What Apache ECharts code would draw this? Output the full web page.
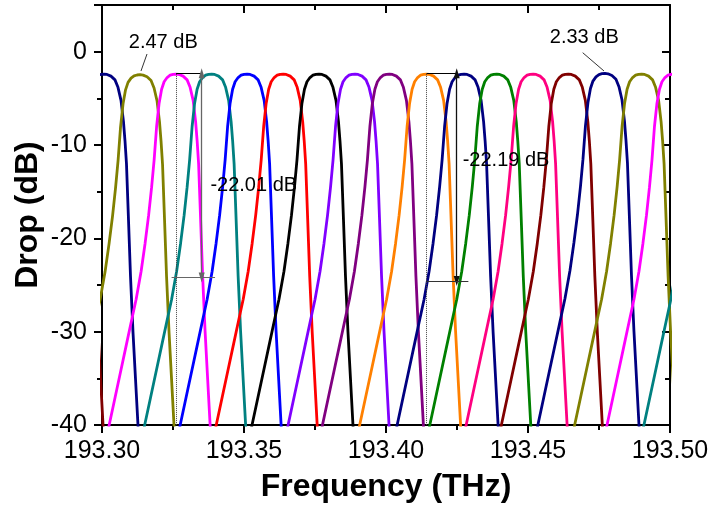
<!DOCTYPE html>
<html><head><meta charset="utf-8">
<script src="https://cdn.jsdelivr.net/npm/echarts@6/dist/echarts.min.js"></script>
<style>html,body{margin:0;padding:0;background:#fff}#c{width:714px;height:511px}</style>
</head><body><div id="c"></div>
<script>
// ---- data ----
const xTickLabels = ['193.30', '193.35', '193.40', '193.45', '193.50'];
const yTickLabels = ['-40', '-30', '-20', '-10', '0'];
const xRange = [193.30, 193.50];
const yRange = [-40, 5];

// channel centre frequencies (THz), left to right
const channelCenters = [193.2884, 193.3007, 193.3134, 193.3261, 193.3386, 193.3511, 193.3638,
  193.3764, 193.3891, 193.4012, 193.4143, 193.4275, 193.4390, 193.4518, 193.4642, 193.4771,
  193.4900, 193.5014, 193.5144];
const channelColors = ['#800000', '#000080', '#808000', '#FF00FF', '#008080', '#0000FF', '#FF0000',
  '#000000', '#8000FF', '#800080', '#FF8000', '#000080', '#008000', '#FF0080', '#800000', '#000080',
  '#808000', '#FF00FF', '#008080'];
// insertion loss at the peak (dB)
const peakLoss = [2.4, 2.4, 2.47, 2.4, 2.4, 2.4, 2.4, 2.4, 2.4, 2.4, 2.4, 2.4, 2.4, 2.4, 2.4, 2.33, 2.4, 2.4, 2.4];

// measured passband shape: frequency offset from centre (THz) and drop (dB)
const shapeOffset = [-0.02535, -0.02359, -0.02148, -0.01937, -0.01761, -0.01585, -0.01408, -0.01232,
  -0.01092, -0.00968, -0.00863, -0.00775, -0.00687, -0.00599, -0.00511, -0.00423, -0.00317, -0.00211,
  -0.00106, 0, 0.00106, 0.00246, 0.00387, 0.00493, 0.00599, 0.00687, 0.00739, 0.00792, 0.00863,
  0.00933, 0.01021, 0.01109, 0.01197, 0.0125];
const shapeDrop = [-43, -40, -37, -34, -31.5, -29, -26.5, -23.5, -20.5, -17.5, -14.5, -11.6, -8,
  -5.5, -4, -3.2, -2.75, -2.5, -2.41, -2.38, -2.42, -2.6, -3.0, -3.8, -5.2, -7.5, -9.5, -12, -18,
  -24, -30, -35, -40, -43];
const shapePeak = -2.38;

// annotation texts
const labelTexts = ['2.47 dB', '2.33 dB', '-22.01 dB', '-22.19 dB'];
const labelX = [193.32158, 193.46982, 193.33817, 193.42701];
const labelY = [0.99, 1.52, -14.3, -11.61];

// annotation segments: [x1, y1, x2, y2]
const guideDotted = [[193.3261, -2.38, 193.3261, -40], [193.4143, -2.38, 193.4143, -40]];
const capTop = [[193.3261, -2.3, 193.3352, -2.3], [193.4143, -2.3, 193.4250, -2.3]];
const arrowV = [[193.3351, -2.3, 193.3351, -24.2], [193.4249, -2.3, 193.4249, -24.57]];
const capBottom = [[193.3245, -24.2, 193.3398, -24.2], [193.4143, -24.57, 193.4290, -24.57]];
const leaders = [[193.31585, -0.25, 193.31373, -2.07], [193.46926, -0.11, 193.47676, -2.07]];

// ---- chart ----
const FONT = 'Arial, "Liberation Sans", sans-serif';
const chart = echarts.init(document.getElementById('c'), null, {renderer: 'canvas'});

const channelSeries = channelCenters.map((c, i) => ({
  type: 'line',
  data: shapeOffset.map((d, k) => [c + d, shapeDrop[k] - shapePeak - peakLoss[i]]),
  showSymbol: false,
  symbol: 'none',
  clip: true,
  lineStyle: {color: channelColors[i], width: 2.8},
  itemStyle: {color: channelColors[i]},
  silent: true,
  z: 2
}));

function seg(s, style, sym) {
  return [
    {coord: [s[0], s[1]], symbol: sym ? sym[0] : 'none', lineStyle: style},
    {coord: [s[2], s[3]], symbol: sym ? sym[1] : 'none', lineStyle: style}
  ];
}
const mlData = [];
guideDotted.forEach(s => mlData.push(seg(s, {color: '#444', width: 1, type: 'dotted'})));
capTop.forEach(s => mlData.push(seg(s, {color: '#000', width: 1, type: 'solid'})));
arrowV.forEach((s, i) => mlData.push(seg(s, {color: i === 0 ? '#666' : '#111', width: 1.3, type: 'solid'}, ['triangle', 'triangle'])));
capBottom.forEach((s, i) => mlData.push(seg(s, {color: i === 0 ? '#666' : '#333', width: 1.2, type: 'solid'})));
leaders.forEach(s => mlData.push(seg(s, {color: '#000', width: 0.8, type: 'solid'})));

const annotSeries = {
  type: 'line', data: [], silent: true, z: 5,
  markLine: {
    silent: true, animation: false,
    symbol: ['none', 'none'], symbolSize: [6, 10],
    label: {show: false},
    emphasis: {disabled: true},
    itemStyle: {color: '#000'},
    data: mlData
  }
};

const textSeries = {
  type: 'scatter', symbolSize: 0, silent: true, z: 10,
  itemStyle: {opacity: 1},
  data: labelTexts.map((t, i) => ({
    value: [labelX[i], labelY[i]], name: t,
    label: {position: i < 2 ? 'inside' : 'right', distance: 0}
  })),
  label: {show: true, formatter: p => p.name, color: '#000', opacity: 1, textBorderWidth: 0,
    fontSize: 20, fontFamily: FONT}
};

const axisLine = {show: true, onZero: false, lineStyle: {color: '#000', width: 2}};

chart.setOption({
  animation: false,
  backgroundColor: '#fff',
  grid: {left: 102, right: 44, top: 5, bottom: 86, containLabel: false},
  xAxis: [{
    type: 'value', position: 'bottom', min: xRange[0], max: xRange[1], interval: 0.05,
    axisLine: axisLine,
    axisTick: {show: true, inside: false, length: 8, lineStyle: {color: '#000', width: 2}},
    minorTick: {show: true, splitNumber: 2, length: 5, lineStyle: {color: '#000', width: 2}},
    splitLine: {show: false},
    axisLabel: {show: true, margin: 14, fontSize: 25, color: '#000', fontFamily: FONT,
      formatter: v => { const i = Math.round((v - xRange[0]) / 0.05); return xTickLabels[i] || ''; }},
    name: 'Frequency (THz)', nameLocation: 'middle', nameGap: 46, nameMoveOverlap: false,
    nameTextStyle: {fontSize: 32, fontWeight: 'bold', color: '#000', fontFamily: FONT}
  }, {
    type: 'value', position: 'top', min: xRange[0], max: xRange[1], interval: 0.05,
    axisLine: axisLine,
    axisTick: {show: true, inside: true, length: 8, lineStyle: {color: '#000', width: 2}},
    minorTick: {show: true, splitNumber: 2, length: 5, lineStyle: {color: '#000', width: 2}},
    splitLine: {show: false}, axisLabel: {show: false}
  }],
  yAxis: [{
    type: 'value', position: 'left', min: yRange[0], max: yRange[1], interval: 10,
    axisLine: axisLine,
    axisTick: {show: true, inside: false, length: 8, lineStyle: {color: '#000', width: 2}},
    minorTick: {show: true, splitNumber: 2, length: 5, lineStyle: {color: '#000', width: 2}},
    splitLine: {show: false},
    axisLabel: {show: true, margin: 15, fontSize: 25, color: '#000', fontFamily: FONT, showMaxLabel: false,
      formatter: v => { const i = Math.round((v - yRange[0]) / 10); return (v % 10 === 0 && yTickLabels[i]) ? yTickLabels[i] : ''; }},
    name: 'Drop (dB)', nameLocation: 'middle', nameGap: 58, nameMoveOverlap: false,
    nameTextStyle: {fontSize: 32, fontWeight: 'bold', color: '#000', fontFamily: FONT}
  }, {
    type: 'value', position: 'right', min: yRange[0], max: yRange[1], interval: 10,
    axisLine: axisLine,
    axisTick: {show: true, inside: true, length: 8, lineStyle: {color: '#000', width: 2}},
    minorTick: {show: true, splitNumber: 2, length: 5, lineStyle: {color: '#000', width: 2}},
    splitLine: {show: false}, axisLabel: {show: false}
  }],
  series: channelSeries.concat([annotSeries, textSeries])
});
</script>
</body></html>
